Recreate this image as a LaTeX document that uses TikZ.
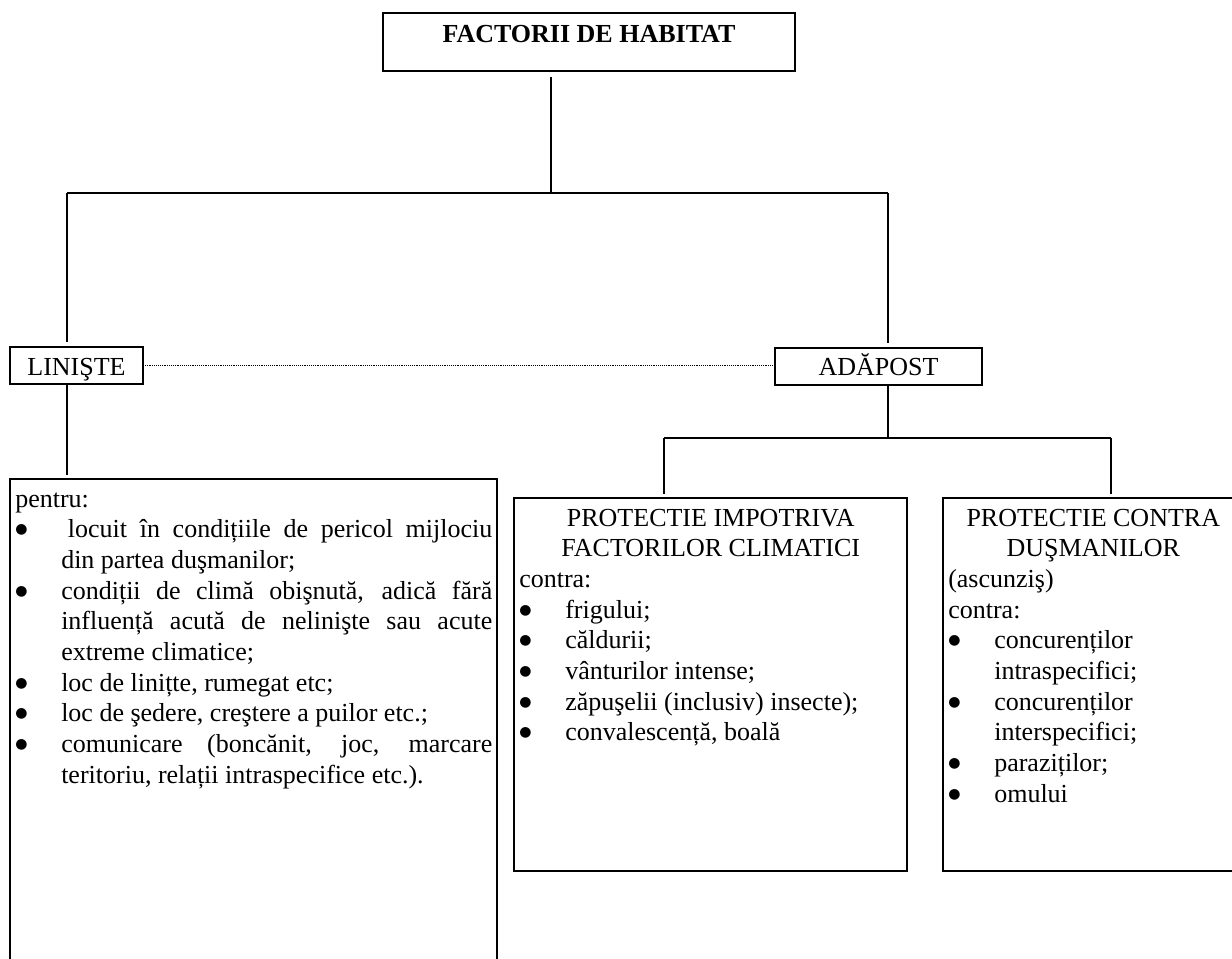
\documentclass[tikz,border=0pt]{standalone}
\usepackage{fontspec}
\setmainfont{Liberation Serif}
\newfontfamily\habsymfont{DejaVu Sans}
\usepackage{tikz}
\usetikzlibrary{positioning,calc}
\setlength{\parindent}{0pt}

\newcommand{\habfont}{\fontsize{19.5pt}{23pt}\selectfont}
\newcommand{\habbullet}{\raisebox{3pt}{\habsymfont\fontsize{10.5pt}{12pt}\selectfont ●}}
\newcommand{\habitem}{\par\noindent\hangindent=34.5pt\hangafter=1\makebox[34.5pt][l]{\habbullet}}

\begin{document}
\begin{tikzpicture}[x=0.75pt, y=-0.75pt,
    box/.style={draw, line width=1.2pt, inner sep=0pt, outer sep=0pt, anchor=north west},
    txt/.style={inner sep=0pt, anchor=north west, align=justify, font=\habfont},
    link/.style={line width=0.9pt},
    bar/.style={line width=1.3pt}]
    % Page frame
    \useasboundingbox (0,0) rectangle (1232,958);

    % Top box
    \node[box, minimum width=309pt, text height=21.75pt, text depth=21.75pt, font=\habfont\bfseries] (fh) at (383,13) {FACTORII DE HABITAT};

    % Second level
    \node[box, minimum width=99.75pt, text height=21pt, text depth=6.75pt, font=\habfont] (lin) at (10,347) {LINIŞTE};
    \node[box, minimum width=155.25pt, text height=20.25pt, text depth=7.5pt, font=\habfont] (ada) at (775,348) {ADĂPOST};

    % Bottom boxes
    \node[box, minimum width=365.25pt, minimum height=364.5pt] (pen) at (10,479) {};
    \node[box, minimum width=294.75pt, minimum height=279.75pt] (cli) at (514,498) {};
    \node[box, minimum width=225pt, minimum height=279.75pt] (dus) at (943,498) {};

    % Box texts
    \node[txt, text width=357.75pt] (pentxt) at ([shift={(5,6.5)}]pen.north west) {\strut pentru:%
        \habitem\hspace*{5pt}locuit în condițiile de pericol mijlociu\linebreak din partea duşmanilor;%
        \habitem condiții de climă obişnută, adică fără\linebreak influență acută de nelinişte sau acute\linebreak extreme climatice;%
        \habitem loc de linițte, rumegat etc;%
        \habitem loc de şedere, creştere a puilor etc.;%
        \habitem comunicare (boncănit, joc, marcare\linebreak teritoriu, relații intraspecifice etc.).\par};
    \node[txt, text width=287.25pt] (clitxt) at ([shift={(5,6.5)}]cli.north west) {{\centering\strut PROTECTIE IMPOTRIVA\par FACTORILOR CLIMATICI\par}%
        \noindent contra:%
        \habitem frigului;%
        \habitem căldurii;%
        \habitem vânturilor intense;%
        \habitem zăpuşelii (inclusiv) insecte);%
        \habitem convalescență, boală\par};
    \node[txt, text width=217.5pt] (dustxt) at ([shift={(5,6.5)}]dus.north west) {{\centering\strut PROTECTIE CONTRA\par DUŞMANILOR\par}%
        \noindent (ascunziş)\par
        \noindent contra:%
        \habitem concurenților\newline intraspecifici;%
        \habitem concurenților\newline interspecifici;%
        \habitem paraziților;%
        \habitem omului\par};

    % Junctions
    \coordinate (j0) at (551,193);
    \coordinate (jl) at (67,193);
    \coordinate (jr) at (888,193);
    \coordinate (j2) at (888,438);
    \coordinate (j2l) at (664,438);
    \coordinate (j2r) at (1111,438);

    % Connectors
    \draw[link, shorten <=4.5pt] (fh.south -| j0) -- (j0);
    \draw[bar] (jl) -- (jr);
    \draw[link, shorten >=3.75pt] (jl) -- (jl |- lin.north);
    \draw[link, shorten >=3.75pt] (jr) -- (jr |- ada.north);
    \draw[link, shorten >=3pt] (lin.south -| jl) -- (pen.north -| jl);
    \draw[link] (ada.south -| j2) -- (j2);
    \draw[bar] (j2l) -- (j2r);
    \draw[link, shorten >=3pt] (j2l) -- (j2l |- cli.north);
    \draw[link, shorten >=3pt] (j2r) -- (j2r |- dus.north);
    \draw[line width=0.7pt, dash pattern=on 0.6pt off 0.8pt] (lin.east) -- (lin.east -| ada.west);
\end{tikzpicture}
\end{document}
